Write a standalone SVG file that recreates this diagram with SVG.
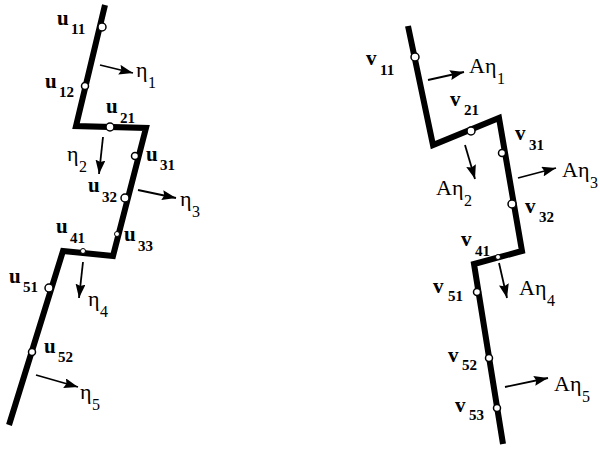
<svg xmlns="http://www.w3.org/2000/svg" width="600" height="449" viewBox="0 0 600 449">
<defs>
<marker id="ah" viewBox="0 0 14 10" refX="14" refY="5" markerWidth="14" markerHeight="10" markerUnits="userSpaceOnUse" orient="auto">
<path d="M0,0 L14,5 L0,10 L2,5 Z" fill="#000"/>
</marker>
</defs>
<style>
.beam{fill:none;stroke:#000;stroke-width:6;stroke-linejoin:miter}
.arr{stroke:#000;stroke-width:1.8;fill:none;marker-end:url(#ah)}
.pt{fill:#fff;stroke:#000;stroke-width:1.5}
.sp{fill:#fff;stroke:#000;stroke-width:1}
.v{font-family:"Liberation Serif",serif;font-weight:bold;font-size:21px}
.s{font-family:"Liberation Serif",serif;font-weight:bold;font-size:15px}
.g{font-family:"Liberation Serif",serif;font-size:22px}
.gs{font-family:"Liberation Serif",serif;font-size:16px}
</style>
<g id="connectors">
<polyline class="beam" points="105,5 76,126 146,128 113,256 63,251 9,425"/>
<polyline class="beam" points="408,26 433,145 499,118 522,251 474,264 503,444"/>
<line class="arr" x1="100" y1="65" x2="133" y2="73"/>
<line class="arr" x1="103" y1="137" x2="99" y2="174"/>
<line class="arr" x1="138" y1="190" x2="176" y2="198"/>
<line class="arr" x1="83" y1="262" x2="79" y2="298"/>
<line class="arr" x1="36" y1="375" x2="78" y2="387"/>
<line class="arr" x1="428" y1="80" x2="464" y2="72"/>
<line class="arr" x1="465" y1="145" x2="475" y2="179"/>
<line class="arr" x1="518" y1="178" x2="556" y2="168"/>
<line class="arr" x1="499" y1="263" x2="507" y2="298"/>
<line class="arr" x1="505" y1="387" x2="548" y2="378"/>
</g>
<g id="u11"><circle class="pt" cx="102" cy="27" r="4"/><text class="v" x="57" y="25">u</text><text class="s" x="71" y="34">11</text></g>
<g id="u12"><circle class="pt" cx="85" cy="86" r="3.5"/><text class="v" x="45" y="88">u</text><text class="s" x="59" y="97">12</text></g>
<g id="u21"><circle class="pt" cx="110" cy="127" r="4"/><text class="v" x="106" y="113">u</text><text class="s" x="120" y="123">21</text></g>
<g id="u31"><circle class="pt" cx="135" cy="156" r="3.5"/><text class="v" x="146" y="161">u</text><text class="s" x="160" y="170">31</text></g>
<g id="u32"><circle class="pt" cx="125" cy="198" r="4"/><text class="v" x="88" y="192">u</text><text class="s" x="102" y="202">32</text></g>
<g id="u33"><circle class="sp" cx="117" cy="234" r="2.5"/><text class="v" x="124" y="241">u</text><text class="s" x="138" y="251">33</text></g>
<g id="u41"><circle class="sp" cx="83" cy="251" r="2.5"/><text class="v" x="56" y="233">u</text><text class="s" x="70" y="243">41</text></g>
<g id="u51"><circle class="pt" cx="49" cy="288" r="4"/><text class="v" x="9" y="283">u</text><text class="s" x="23" y="292">51</text></g>
<g id="u52"><circle class="pt" cx="32" cy="352" r="3.5"/><text class="v" x="44" y="353">u</text><text class="s" x="58" y="362">52</text></g>
<g id="eta1"><text class="g" x="136" y="77">η</text><text class="gs" x="148" y="88">1</text></g>
<g id="eta2"><text class="g" x="67" y="161">η</text><text class="gs" x="79" y="172">2</text></g>
<g id="eta3"><text class="g" x="180" y="206">η</text><text class="gs" x="192" y="217">3</text></g>
<g id="eta4"><text class="g" x="88" y="306">η</text><text class="gs" x="100" y="317">4</text></g>
<g id="eta5"><text class="g" x="80" y="399">η</text><text class="gs" x="92" y="410">5</text></g>
<g id="v11"><circle class="pt" cx="415" cy="57" r="4"/><text class="v" x="366" y="65">v</text><text class="s" x="380" y="75">11</text></g>
<g id="v21"><circle class="pt" cx="471" cy="131" r="4"/><text class="v" x="450" y="106">v</text><text class="s" x="464" y="115">21</text></g>
<g id="v31"><circle class="pt" cx="502" cy="153" r="3.5"/><text class="v" x="515" y="140">v</text><text class="s" x="529" y="150">31</text></g>
<g id="v32"><circle class="pt" cx="512" cy="204" r="4"/><text class="v" x="525" y="213">v</text><text class="s" x="539" y="222">32</text></g>
<g id="v41"><circle class="sp" cx="498" cy="257" r="2.5"/><text class="v" x="461" y="246">v</text><text class="s" x="475" y="256">41</text></g>
<g id="v51"><circle class="pt" cx="477" cy="292" r="3.5"/><text class="v" x="433" y="293">v</text><text class="s" x="448" y="301">51</text></g>
<g id="v52"><circle class="pt" cx="489" cy="358" r="3.5"/><text class="v" x="448" y="362">v</text><text class="s" x="462" y="370">52</text></g>
<g id="v53"><circle class="pt" cx="497" cy="408" r="3.5"/><text class="v" x="455" y="412">v</text><text class="s" x="469" y="420">53</text></g>
<g id="Aeta1"><text class="g" x="469" y="73">Aη</text><text class="gs" x="497" y="84">1</text></g>
<g id="Aeta2"><text class="g" x="436" y="195">Aη</text><text class="gs" x="464" y="206">2</text></g>
<g id="Aeta3"><text class="g" x="562" y="177">Aη</text><text class="gs" x="590" y="188">3</text></g>
<g id="Aeta4"><text class="g" x="519" y="295">Aη</text><text class="gs" x="547" y="306">4</text></g>
<g id="Aeta5"><text class="g" x="554" y="391">Aη</text><text class="gs" x="582" y="402">5</text></g>
</svg>
